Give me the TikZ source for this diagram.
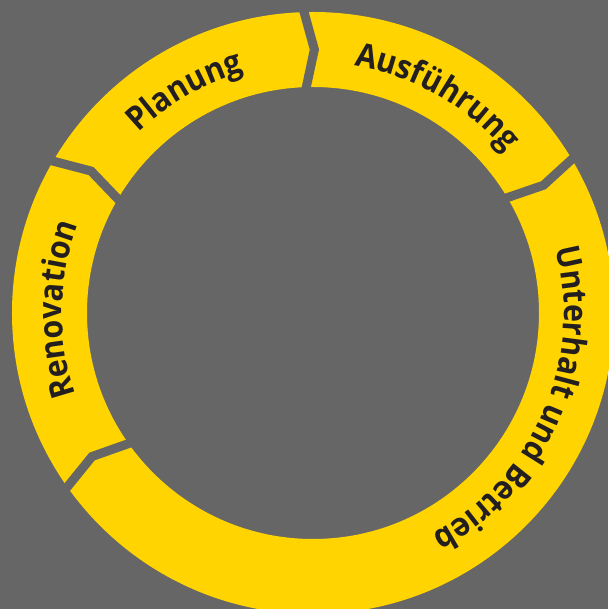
\documentclass[tikz,border=0pt]{standalone}
\usepackage{fontspec}
\setmainfont{Open Sans}[FakeStretch=0.92]
\usetikzlibrary{decorations.text,calc}
\definecolor{bggray}{RGB}{102,102,102}
\definecolor{ringyellow}{RGB}{255,212,0}
\definecolor{labeltext}{RGB}{35,31,32}
\newcommand\labelfont{\bfseries\fontsize{33pt}{36pt}\selectfont}

\begin{document}
\begin{tikzpicture}[
 ring/.style={fill=ringyellow,even odd rule},
 gap/.style={draw=bggray,line width=9pt,miter limit=20},
 ringlabel/.style={decorate,decoration={text along path,text align=center,text color=labeltext}}]
\useasboundingbox[fill=bggray] (-313pt,-296pt) rectangle (295pt,313pt);
\fill[ring] (0,0) circle[radius=301pt] (0,0) circle[radius=226pt];
% gaps between the phases: end angle / tip angle
\foreach \g/\t in {91.7/89.7,149.7/147.4,30.7/29.0,215.3/213.0}
 \draw[gap] ($(\t:263.5pt)!1.4!(\g:301pt)$) -- (\t:263.5pt) -- ($(\t:263.5pt)!1.4!(\g:226pt)$);
% phase names
\path[ringlabel,decoration={text={|\labelfont|Planung}}]
 (160:251pt) arc[start angle=160,end angle=80,radius=251pt];
\path[ringlabel,decoration={text={|\labelfont|Ausführung}}]
 (105.2:251pt) arc[start angle=105.2,end angle=15.2,radius=251pt];
\path[ringlabel,decoration={text={|\labelfont|Renovation}}]
 (224.2:251pt) arc[start angle=224.2,end angle=134.2,radius=251pt];
\path[ringlabel,decoration={text={|\labelfont|Unterhalt und Betrieb}}]
 (36.6:251pt) arc[start angle=36.6,end angle=-83.4,radius=251pt];
\end{tikzpicture}
\end{document}
